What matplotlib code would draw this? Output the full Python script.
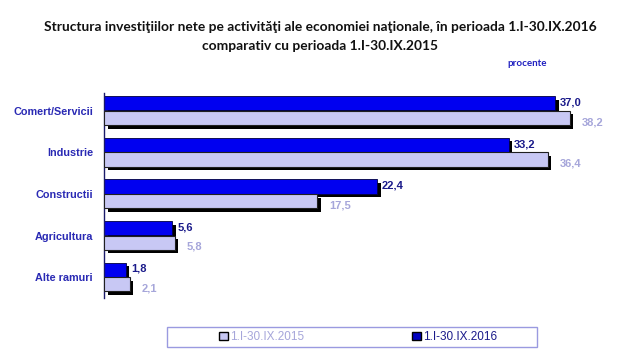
import numpy as np
import matplotlib
matplotlib.use("Agg")
import matplotlib.pyplot as plt
from matplotlib.patches import Patch, Rectangle

plt.rcParams.update({
    "font.family": "sans-serif",
    "font.sans-serif": ["Liberation Sans", "DejaVu Sans"],
})

C15 = "#c8c8f4"      # light lavender 2015
C16 = "#0000f0"      # blue 2016
TXT16 = "#1a1a8a"
TXT15 = "#a6a6da"
CAT_C = "#2a2ab4"

# ---------------- data ----------------
categories = ["Comert/Servicii", "Industrie", "Constructii", "Agricultura", "Alte ramuri"]
v2015 = [38.2, 36.4, 17.5, 5.8, 2.1]
v2016 = [37.0, 33.2, 22.4, 5.6, 1.8]
lab2015 = "1.I-30.IX.2015"
lab2016 = "1.I-30.IX.2016"

W, H = 640, 360
fig = plt.figure(figsize=(6.4, 3.6), dpi=100)
ax = fig.add_axes([104 / W, 1 - 298 / H, (620 - 104) / W, (298 - 93) / H])

y = np.arange(len(categories))
bh = 0.34
px_x = 42.33 / 516      # data units per pixel (x)
px_y = 4.93 / 205       # data units per pixel (y)
sx, sy = 3.5 * px_x, 3.5 * px_y

y16 = y - bh / 2 - 0.01
y15 = y + bh / 2
# 2016 shadow + bar, then 2015 shadow + bar
ax.barh(y16 + sy, v2016, height=bh, left=sx, color="black", zorder=1)
ax.barh(y16, v2016, height=bh, color=C16, edgecolor="#000040", linewidth=0.6, zorder=2)
ax.barh(y15 + sy, v2015, height=bh, left=sx, color="black", zorder=3)
ax.barh(y15, v2015, height=bh, color=C15, edgecolor="#202020", linewidth=0.8, zorder=4)

for yi, v in zip(y16, v2016):
    ax.text(v + sx + 1.5 * px_x, yi - 0.02, f"{v:.1f}".replace(".", ","), ha="left",
            va="center", fontsize=8, fontweight="bold", color=TXT16, zorder=5)
for yi, v in zip(y15, v2015):
    ax.text(v + 12 * px_x, yi + 0.1, f"{v:.1f}".replace(".", ","), ha="left",
            va="center", fontsize=8, fontweight="bold", color=TXT15, zorder=5)

ax.set_xlim(0, 42.33)
ax.set_ylim(4.5, -0.43)
ax.set_yticks(y)
ax.set_yticklabels(categories, fontsize=7.8, fontweight="bold", color=CAT_C)
ax.tick_params(axis="y", length=0, pad=8)
ax.set_xticks([])
for s in ["top", "right", "bottom"]:
    ax.spines[s].set_visible(False)
ax.spines["left"].set_color("#1a1a6a")
ax.spines["left"].set_linewidth(1.0)

# title
fig.text(320 / W, 1 - 27 / H,
         "Structura investiţiilor nete pe activităţi ale economiei naţionale, în perioada 1.I-30.IX.2016",
         ha="center", va="center", fontsize=9.9, fontweight="bold", color="#111111",
         family=["Lato", "DejaVu Sans"])
fig.text(320 / W, 1 - 46 / H, "comparativ cu perioada 1.I-30.IX.2015",
         ha="center", va="center", fontsize=9.9, fontweight="bold", color="#111111",
         family=["Lato", "DejaVu Sans"])
fig.text(527 / W, 1 - 64 / H, "procente", ha="center", va="center",
         fontsize=7, fontweight="bold", color="#2020c0", family=["Lato", "DejaVu Sans"])

# legend
fig.patches.append(Rectangle((167 / W, 1 - 347 / H), 370 / W, 20 / H,
                             transform=fig.transFigure, fill=False,
                             edgecolor="#9a9ae0", linewidth=1.0))
handles = [Patch(facecolor=C15, edgecolor="black", label=lab2015),
           Patch(facecolor="#0000c0", edgecolor="black", label=lab2016)]
leg = fig.legend(handles=handles, loc="center", bbox_to_anchor=(358 / W, 1 - 337 / H),
                 ncol=2, frameon=False, fontsize=8.5, handlelength=0.75,
                 handleheight=0.75, handletextpad=0.15, columnspacing=9.2)
leg.get_texts()[0].set_color(TXT15)
leg.get_texts()[1].set_color(TXT16)

fig.savefig("out.png", dpi=100)
